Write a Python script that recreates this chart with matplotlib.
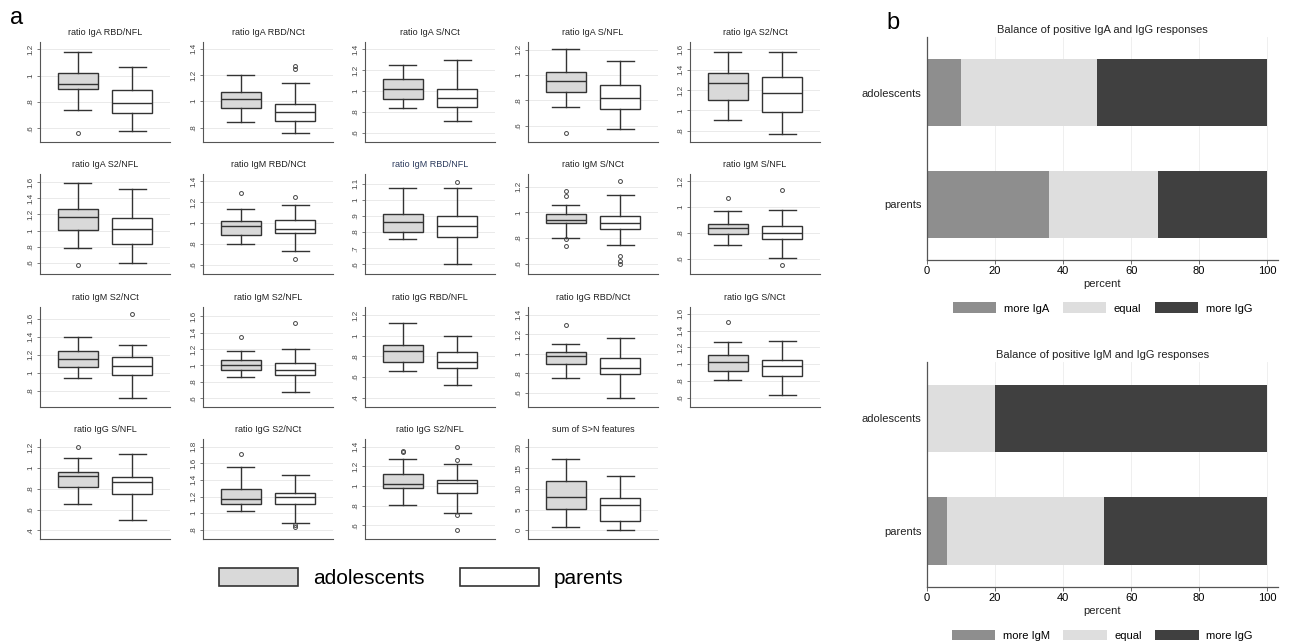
"""Box plots of antibody ratios (panel a) and response balance bars (panel b)."""

import matplotlib
matplotlib.use("Agg")
import matplotlib.pyplot as plt
from matplotlib.patches import Patch

plt.rcParams["font.family"] = ["Liberation Sans", "DejaVu Sans"]

# ---- panel a: box statistics ----
TITLES = [
    "ratio IgA RBD/NFL", "ratio IgA RBD/NCt", "ratio IgA S/NCt", "ratio IgA S/NFL",
    "ratio IgA S2/NCt", "ratio IgA S2/NFL", "ratio IgM RBD/NCt", "ratio IgM RBD/NFL",
    "ratio IgM S/NCt", "ratio IgM S/NFL", "ratio IgM S2/NCt", "ratio IgM S2/NFL",
    "ratio IgG RBD/NFL", "ratio IgG RBD/NCt", "ratio IgG S/NCt", "ratio IgG S/NFL",
    "ratio IgG S2/NCt", "ratio IgG S2/NFL", "sum of S>N features",
]

# adolescents: whisker low, q1, median, q3, whisker high
ADOL_LO = [.74, .845, .84, .75, .905, .785, .795, .757, .80, .708, .94, .855, .66, .75, .81, .65, 1.03, .81, .9]
ADOL_Q1 = [.895, .95, .92, .865, 1.105, 1.01, .885, .80, .915, .787, 1.065, .95, .75, .89, .915, .82, 1.11, .985, 5.1]
ADOL_MED = [.94, 1.02, 1.02, .955, 1.27, 1.17, .97, .865, .945, .835, 1.155, 1.01, .85, .98, 1.03, .925, 1.175, 1.02, 8.1]
ADOL_Q3 = [1.023, 1.072, 1.11, 1.02, 1.367, 1.27, 1.02, .915, .99, .87, 1.24, 1.07, .915, 1.015, 1.11, .96, 1.29, 1.125, 11.9]
ADOL_HI = [1.18, 1.2, 1.25, 1.205, 1.577, 1.59, 1.133, 1.075, 1.055, .97, 1.40, 1.17, 1.12, 1.105, 1.26, 1.095, 1.55, 1.28, 17.1]
ADOL_OUT = [[.56], [], [], [.54], [], [.575], [1.29], [], [1.17, 1.125, .79, .735], [1.07],
            [], [1.345], [], [1.295], [1.50], [1.2], [1.71], [1.35, 1.36], []]

# parents
PAR_LO = [.58, .755, .71, .57, .77, .595, .73, .60, .75, .605, .72, .68, .52, .545, .63, .50, .88, .725, 0]
PAR_Q1 = [.713, .85, .85, .73, .987, .84, .9, .77, .87, .755, .975, .885, .69, .79, .855, .75, 1.105, .93, 2.2]
PAR_MED = [.795, .92, .935, .815, 1.17, 1.02, .94, .835, .915, .80, 1.08, .945, .75, .85, .98, .86, 1.195, 1.035, 6.0]
PAR_Q3 = [.89, .98, 1.02, .92, 1.33, 1.16, 1.03, .90, .975, .855, 1.17, 1.03, .84, .955, 1.05, .91, 1.24, 1.06, 7.9]
PAR_HI = [1.067, 1.135, 1.30, 1.11, 1.577, 1.51, 1.175, 1.075, 1.135, .98, 1.31, 1.195, .995, 1.165, 1.28, 1.13, 1.46, 1.22, 13.1]
PAR_OUT = [[], [1.245, 1.27], [], [], [], [], [1.245, .655], [1.11], [1.245, .66, .62, .595],
           [1.13, .55], [1.65], [1.52], [], [], [], [], [.855, .83], [1.40, 1.27, .705, .55], []]

YTICKS = [
    [.6, .8, 1, 1.2], [.8, 1, 1.2, 1.4], [.6, .8, 1, 1.2, 1.4], [.6, .8, 1, 1.2],
    [.8, 1, 1.2, 1.4, 1.6], [.6, .8, 1, 1.2, 1.4, 1.6], [.6, .8, 1, 1.2, 1.4],
    [.6, .7, .8, .9, 1, 1.1], [.6, .8, 1, 1.2], [.6, .8, 1, 1.2], [.8, 1, 1.2, 1.4, 1.6],
    [.6, .8, 1, 1.2, 1.4, 1.6], [.4, .6, .8, 1, 1.2], [.6, .8, 1, 1.2, 1.4],
    [.6, .8, 1, 1.2, 1.4, 1.6], [.4, .6, .8, 1, 1.2], [.8, 1, 1.2, 1.4, 1.6, 1.8],
    [.6, .8, 1, 1.2, 1.4], [0, 5, 10, 15, 20],
]
YLIMS = [
    (.495, 1.256), (.69, 1.45), (.51, 1.47), (.47, 1.26), (.687, 1.673), (.465, 1.70),
    (.51, 1.47), (.54, 1.16), (.52, 1.30), (.48, 1.256), (.62, 1.73), (.495, 1.71),
    (.31, 1.28), (.453, 1.48), (.49, 1.68), (.317, 1.277), (.69, 1.89), (.46, 1.48), (-2.1, 22),
]

# ---- panel b: percentages ----
GROUPS = ["adolescents", "parents"]
IGA_CATS = ["more IgA", "equal", "more IgG"]
IGA_PCT = {"more IgA": [10, 36], "equal": [40, 32], "more IgG": [50, 32]}
IGM_CATS = ["more IgM", "equal", "more IgG"]
IGM_PCT = {"more IgM": [0, 6], "equal": [20, 46], "more IgG": [80, 48]}
BAR_COLORS = ["#8e8e8e", "#dedede", "#404040"]

W, H = 1290, 641
ADOL_FILL = "#d9d9d9"
EDGE = "#333333"


def px_axes(fig, left, top, width, height):
    return fig.add_axes([left / W, 1 - (top + height) / H, width / W, height / H])


def tick_fmt(v):
    s = f"{v:g}"
    return s[1:] if s.startswith("0.") else s


def box_panel(ax, i):
    stats = [
        dict(whislo=ADOL_LO[i], q1=ADOL_Q1[i], med=ADOL_MED[i], q3=ADOL_Q3[i],
             whishi=ADOL_HI[i], fliers=ADOL_OUT[i]),
        dict(whislo=PAR_LO[i], q1=PAR_Q1[i], med=PAR_MED[i], q3=PAR_Q3[i],
             whishi=PAR_HI[i], fliers=PAR_OUT[i]),
    ]
    line = dict(color=EDGE, linewidth=1.0)
    art = ax.bxp(stats, positions=[1, 2], widths=0.75, capwidths=0.5, patch_artist=True,
                 boxprops=dict(edgecolor=EDGE, linewidth=1.0), medianprops=line,
                 whiskerprops=line, capprops=line,
                 flierprops=dict(marker="o", markersize=2.8, markerfacecolor="none",
                                 markeredgecolor="#444444", markeredgewidth=0.7))
    for patch, fc in zip(art["boxes"], [ADOL_FILL, "white"]):
        patch.set_facecolor(fc)
    ax.set_xlim(0.3, 2.7)
    ax.set_ylim(*YLIMS[i])
    ax.set_yticks(YTICKS[i])
    ax.set_yticklabels([tick_fmt(v) for v in YTICKS[i]], rotation=90, va="center",
                       fontsize=5.8, color="#444444")
    ax.set_xticks([])
    ax.tick_params(axis="y", length=2.5, width=0.6, color="#666666", pad=1.5)
    ax.grid(axis="y", color="#e6e6e6", linewidth=0.6)
    ax.set_axisbelow(True)
    for side in ("top", "right"):
        ax.spines[side].set_visible(False)
    for side in ("left", "bottom"):
        ax.spines[side].set_color("#555555")
        ax.spines[side].set_linewidth(0.8)
    title_color = "#2b3a5c" if i == 7 else "#222222"
    ax.set_title(TITLES[i], fontsize=6.5, color=title_color, pad=5)


def balance_panel(ax, cats, pct, title):
    left = [0, 0]
    for cat, color in zip(cats, BAR_COLORS):
        ax.barh([1, 0], pct[cat], left=left, height=0.6, color=color, label=cat)
        left = [a + b for a, b in zip(left, pct[cat])]
    ax.set_xlim(0, 103.2)
    ax.set_ylim(-0.5, 1.5)
    ax.set_yticks([1, 0])
    ax.set_yticklabels(GROUPS, fontsize=8, color="#222222")
    ax.set_xticks([0, 20, 40, 60, 80, 100])
    ax.tick_params(axis="x", labelsize=8, length=3, width=0.6, color="#555555", pad=1.5)
    ax.tick_params(axis="y", length=0, pad=4)
    ax.grid(axis="x", color="#ececec", linewidth=0.6)
    ax.set_axisbelow(True)
    for side in ("top", "right"):
        ax.spines[side].set_visible(False)
    for side in ("left", "bottom"):
        ax.spines[side].set_color("#555555")
        ax.spines[side].set_linewidth(0.9)
    ax.set_xlabel("percent", fontsize=8, labelpad=2, color="#222222")
    ax.set_title(title, fontsize=8, color="#222222", pad=3)
    ax.legend(loc="center", bbox_to_anchor=(0.5, -0.215), ncol=3, frameon=False,
              fontsize=8, handlelength=3.9, handleheight=1.1, columnspacing=1.2,
              handletextpad=0.7, borderpad=0.1)


fig = plt.figure(figsize=(W / 100, H / 100), dpi=100)

col_left = [40, 203, 365, 528, 690]
row_top = [42, 174, 307, 439]
for i in range(len(TITLES)):
    r, c = divmod(i, 5)
    ax = px_axes(fig, col_left[c], row_top[r], 130, 100)
    box_panel(ax, i)

fig.legend(handles=[Patch(facecolor=ADOL_FILL, edgecolor=EDGE, linewidth=1.2),
                    Patch(facecolor="white", edgecolor=EDGE, linewidth=1.2)],
           labels=["adolescents", "parents"], loc="center",
           bbox_to_anchor=(421 / W, 1 - 578 / H), ncol=2, frameon=False, fontsize=15,
           handlelength=3.8, handleheight=0.95, columnspacing=1.7, handletextpad=0.7)

ax_top = px_axes(fig, 927, 37, 351, 223)
balance_panel(ax_top, IGA_CATS, IGA_PCT, "Balance of positive IgA and IgG responses")
ax_bot = px_axes(fig, 927, 362, 351, 225)
balance_panel(ax_bot, IGM_CATS, IGM_PCT, "Balance of positive IgM and IgG responses")

fig.text(10 / W, 1 - 18 / H, "a", fontsize=17, va="center", ha="left")
fig.text(893 / W, 1 - 23 / H, "b", fontsize=17, va="center", ha="center")

fig.savefig("out.png", dpi=100)
